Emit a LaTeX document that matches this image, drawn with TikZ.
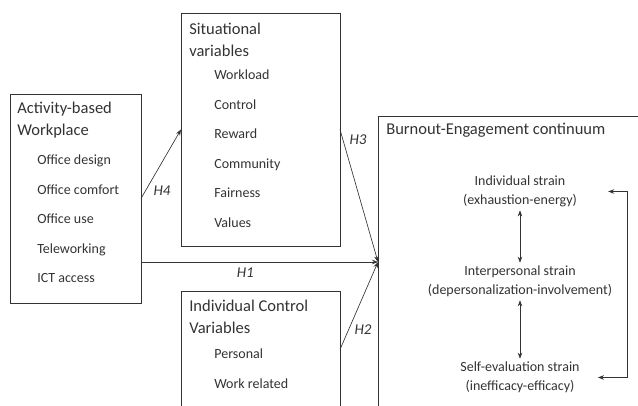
\documentclass[tikz,border=0pt]{standalone}
\usepackage{fontspec}
\setmainfont{Carlito}
\usetikzlibrary{arrows.meta}
\tikzset{
  box/.style={draw, rectangle, outer sep=0pt, inner sep=0pt},
  title/.style={anchor=west, align=left, inner sep=0pt, font=\fontsize{16.5}{22}\selectfont},
  item/.style={anchor=west, inner sep=0pt, text height=1.5ex, text depth=.25ex, font=\fontsize{14}{17}\selectfont},
  strain/.style={align=center, inner sep=2pt, font=\fontsize{14}{19}\selectfont},
  hyp/.style={font=\fontsize{15}{18}\selectfont\itshape, inner sep=0pt}
}
\begin{document}
\begin{tikzpicture}[x=1pt, y=-1pt, line width=0.65pt, color=black!80,
    >={Stealth[length=6pt, width=4.5pt]}]
  \path[use as bounding box, clip] (0,0) rectangle (638,406);
  \node[box, minimum width=131, minimum height=209] (abw) at (75.5,198.5) {};
  \node[box, minimum width=159, minimum height=233] (sit) at (260.5,129.5) {};
  \node[box, minimum width=159, minimum height=117] (icv) at (260.5,349.5) {};
  \node[box, minimum width=284, minimum height=292] (bec) at (520,262) {};

  \node[title] (abwt) at (17,120) {Activity-based\\Workplace};
  \node[item] (abw1) at (37,162) {Office design};
  \node[item] (abw2) at (37,191.5) {Office comfort};
  \node[item] (abw3) at (37,221) {Office use};
  \node[item] (abw4) at (37,250.5) {Teleworking};
  \node[item] (abw5) at (37,280) {ICT access};

  \node[title] (sitt) at (189,39.5) {Situational\\variables};
  \node[item] (sit1) at (214,77) {Workload};
  \node[item] (sit2) at (214,106.5) {Control};
  \node[item] (sit3) at (214,136) {Reward};
  \node[item] (sit4) at (214,165.5) {Community};
  \node[item] (sit5) at (214,195) {Fairness};
  \node[item] (sit6) at (214,225) {Values};

  \node[title] (icvt) at (189,317) {Individual Control\\Variables};
  \node[item] (icv1) at (214,356) {Personal};
  \node[item] (icv2) at (214,385.5) {Work related};

  \node[title] (bect) at (386,130) {Burnout-Engagement continuum};
  \node[strain] (ind) at (520,191.5) {Individual strain\\(exhaustion-energy)};
  \node[strain] (inter) at (520,281.5) {Interpersonal strain\\(depersonalization-involvement)};
  \node[strain] (self) at (520,377.5) {Self-evaluation strain\\(inefficacy-efficacy)};

  \node[hyp] (h4) at (162,191) {H4};
  \node[hyp] (h3) at (358,140) {H3};
  \node[hyp] (h2) at (363,330) {H2};
  \begin{scope}[->]
    \draw (abw.east) to (sit.west);
    \draw (sit.east) to (bec.west);
    \draw (abw.east |- bec.west) to node[hyp, below=6pt, pos=.44] (h1) {H1} (bec.west);
    \draw (icv.east) to (bec.west);
    \draw[<->, shorten <=1pt, shorten >=1pt] (ind) to (inter);
    \draw[<->, shorten <=1pt, shorten >=1pt] (inter) to (self);
    \draw[<->] ([xshift=29]ind.east) -- ++(19,0) |- ([xshift=16]self.east);
  \end{scope}
\end{tikzpicture}
\end{document}
